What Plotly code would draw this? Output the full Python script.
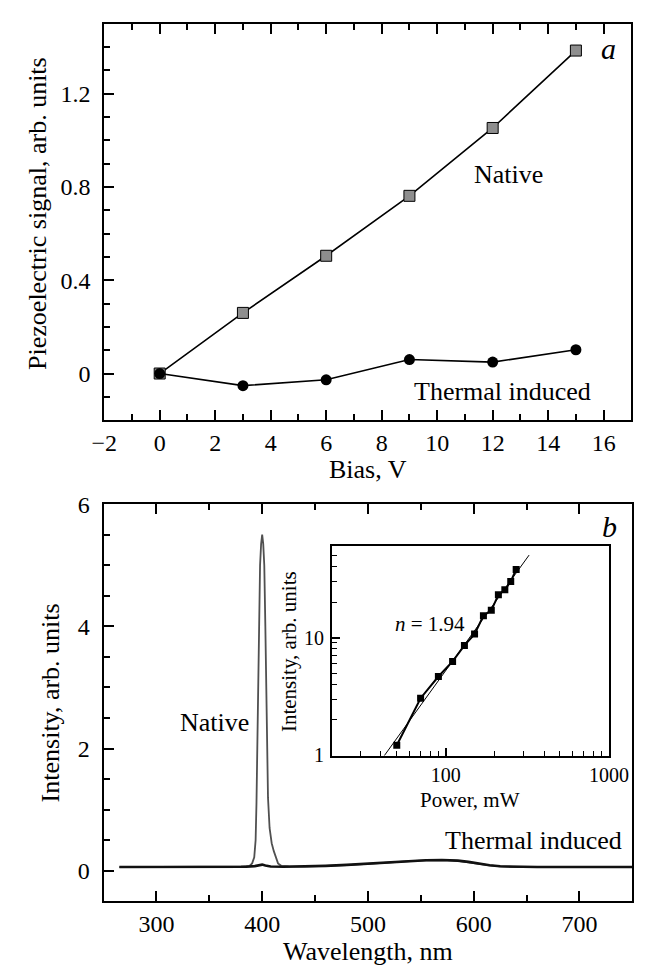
import plotly.graph_objects as go

W, H = 659, 976
FONT = "Liberation Serif, Times New Roman, serif"

# panel a: piezoelectric signal vs bias
bias = [0, 3, 6, 9, 12, 15]
piezo_native = [0.0, 0.26, 0.505, 0.762, 1.053, 1.385]
piezo_thermal = [0.0, -0.052, -0.027, 0.06, 0.049, 0.102]

# panel b: emission spectra
wl_native = [265, 300, 350, 380, 388, 390.5, 392.5, 393.8, 394.6, 395.3, 396.2, 397, 398,
             399, 400, 401, 402, 403, 403.8, 404.6, 405.5, 407, 409, 411, 413, 415, 418,
             425, 440, 460, 480, 500, 520, 540, 555, 570, 585, 595, 605, 615, 625, 640,
             660, 700, 750]
int_native = [0.06, 0.06, 0.065, 0.072, 0.08, 0.12, 0.22, 0.5, 1.1, 1.9, 3.0, 4.2, 5.0,
              5.35, 5.5, 5.35, 5.0, 4.0, 3.0, 1.9, 1.2, 0.7, 0.45, 0.32, 0.2, 0.12, 0.08,
              0.07, 0.068, 0.078, 0.092, 0.112, 0.137, 0.157, 0.168, 0.172, 0.162, 0.142,
              0.112, 0.088, 0.07, 0.06, 0.058, 0.058, 0.058]
wl_thermal = [265, 300, 350, 385, 393, 397, 400, 403, 408, 420, 440, 460, 480, 500, 520,
              540, 555, 570, 585, 595, 605, 615, 625, 640, 660, 700, 750]
int_thermal = [0.06, 0.058, 0.06, 0.065, 0.075, 0.095, 0.1, 0.085, 0.068, 0.065, 0.07,
               0.08, 0.095, 0.115, 0.14, 0.16, 0.172, 0.175, 0.165, 0.145, 0.115, 0.09,
               0.072, 0.062, 0.06, 0.06, 0.06]

# inset: intensity vs excitation power (log-log)
power = [50, 70, 90, 110, 130, 150, 170, 190, 210, 230, 250, 270]
intensity = [1.22, 3.06, 4.67, 6.27, 8.58, 10.7, 15.3, 17.0, 23.0, 25.4, 29.9, 37.8]
fit_power = [42, 324]
fit_intensity = [1.0, 50.0]


def dom_x(a, b):
    return [a / W, b / W]


def dom_y(top, bottom):
    return [(H - bottom) / H, (H - top) / H]


def ann(text, x, y, size=26, angle=0, italic=False):
    if italic:
        text = f"<i>{text}</i>"
    return dict(text=text, x=x / W, y=1 - y / H, xref="paper", yref="paper",
                showarrow=False, xanchor="center", yanchor="middle", textangle=angle,
                font=dict(family=FONT, size=size, color="black"))


fig = go.Figure()

fig.add_trace(go.Scatter(
    x=bias, y=piezo_native, mode="lines+markers", xaxis="x", yaxis="y",
    line=dict(color="black", width=1.6),
    marker=dict(symbol="square", size=11, color="#8e8e8e", line=dict(color="black", width=1)),
))
fig.add_trace(go.Scatter(
    x=bias, y=piezo_thermal, mode="lines+markers", xaxis="x", yaxis="y",
    line=dict(color="black", width=1.6),
    marker=dict(symbol="circle", size=11, color="black"),
))

fig.add_trace(go.Scatter(
    x=wl_native, y=int_native, mode="lines", xaxis="x2", yaxis="y2",
    line=dict(color="#505050", width=1.8),
))
fig.add_trace(go.Scatter(
    x=wl_thermal, y=int_thermal, mode="lines", xaxis="x2", yaxis="y2",
    line=dict(color="#111111", width=2.6),
))

fig.add_trace(go.Scatter(
    x=fit_power, y=fit_intensity, mode="lines", xaxis="x3", yaxis="y3",
    line=dict(color="black", width=1),
))
fig.add_trace(go.Scatter(
    x=power, y=intensity, mode="lines+markers", xaxis="x3", yaxis="y3",
    line=dict(color="black", width=2),
    marker=dict(symbol="square", size=7, color="black"),
))

axis_common = dict(
    showgrid=False, zeroline=False, showline=True, linecolor="black", linewidth=2,
    ticks="inside", tickcolor="black", tickwidth=1.5,
    tickfont=dict(family=FONT, size=24, color="black"),
)

fig.update_layout(
    width=W, height=H,
    margin=dict(l=0, r=0, t=0, b=0),
    paper_bgcolor="white", plot_bgcolor="white",
    showlegend=False,
    xaxis=dict(
        axis_common, domain=dom_x(96, 651), anchor="y", range=[-2, 17],
        tickvals=list(range(-2, 17, 2)), ticklen=10, mirror="ticks",
        minor=dict(ticks="inside", tick0=-1, dtick=1, ticklen=6, tickwidth=1.5, tickcolor="black"),
    ),
    yaxis=dict(
        axis_common, domain=dom_y(11, 417), anchor="x", range=[-0.2, 1.5],
        tickvals=[0, 0.4, 0.8, 1.2], ticktext=["0", "0.4", "0.8", "1.2"],
        ticklen=10, mirror=True, ticklabelstandoff=7,
        minor=dict(ticks="inside", tick0=0, dtick=0.1, ticklen=6, tickwidth=1.5, tickcolor="black"),
    ),
    xaxis2=dict(
        axis_common, domain=dom_x(95.3, 652), anchor="y2", range=[250, 750],
        tickvals=[300, 400, 500, 600, 700], ticklen=10, mirror="ticks",
        minor=dict(ticks="inside", tick0=0, dtick=50, ticklen=6, tickwidth=1.5, tickcolor="black"),
    ),
    yaxis2=dict(
        axis_common, domain=dom_y(503, 909.7), anchor="x2", range=[-0.5, 6],
        tickvals=[0, 2, 4, 6], ticklen=10, mirror=True, ticklabelstandoff=7,
        minor=dict(ticks="inside", tick0=0, dtick=0.5, ticklen=6, tickwidth=1.5, tickcolor="black"),
    ),
    xaxis3=dict(
        axis_common, domain=dom_x(335.7, 627.3), anchor="y3", type="log",
        range=[1.301, 3], tickvals=[100, 1000], ticktext=["100", "1000"],
        ticklen=8, mirror=True, tickfont=dict(family=FONT, size=20, color="black"),
        minor=dict(ticks="inside", tickvals=[20, 30, 40, 50, 60, 70, 80, 90,
                                             200, 300, 400, 500, 600, 700, 800, 900],
                   ticklen=5, tickwidth=1.2, tickcolor="black"),
    ),
    yaxis3=dict(
        axis_common, domain=dom_y(546, 761), anchor="x3", type="log",
        range=[-0.005, 1.775], tickvals=[1, 10], ticktext=["1", "10"],
        ticklen=8, mirror=True, ticklabelstandoff=2,
        tickfont=dict(family=FONT, size=20, color="black"),
        minor=dict(ticks="inside", tickvals=[2, 3, 4, 5, 6, 7, 8, 9, 20, 30, 40, 50],
                   ticklen=5, tickwidth=1.2, tickcolor="black"),
    ),
    annotations=[
        ann("Piezoelectric signal, arb. units", 25, 205, angle=-90),
        ann("Bias, V", 374, 468),
        ann("a", 627, 36, size=30, italic=True),
        ann("Native", 522, 165),
        ann("Thermal induced", 515, 388),
        ann("Intensity, arb. units", 39, 707, angle=-90),
        ann("Wavelength, nm", 374, 961),
        ann("b", 628, 526, size=30, italic=True),
        ann("Native", 212, 727),
        ann("Thermal induced", 548, 847),
        ann("Intensity, arb. units", 290, 654, size=21, angle=-90),
        ann("Power, mW", 481, 806, size=21),
        ann("<i>n</i> = 1.94", 439, 626, size=21),
    ],
)

fig.write_html("out.html", config={"displayModeBar": False},
               post_script="document.body.style.margin='0';")
